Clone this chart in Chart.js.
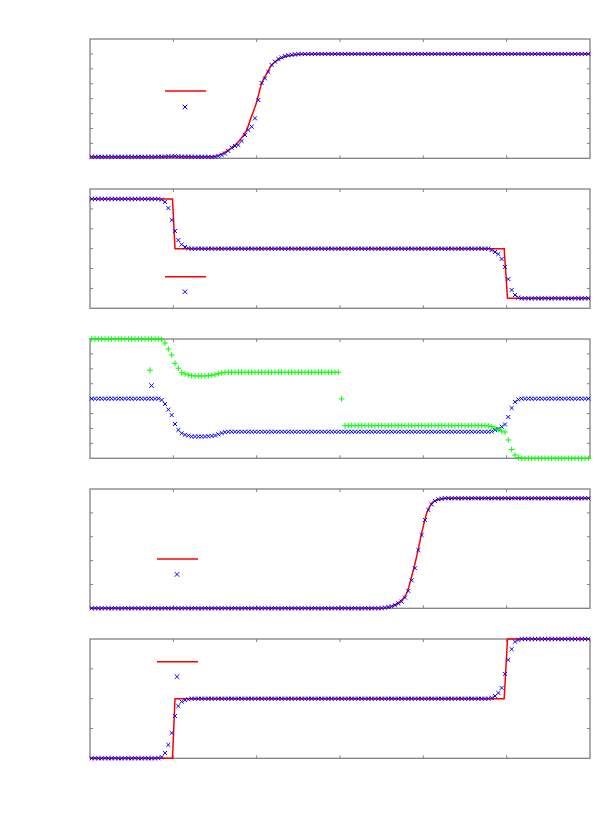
<!DOCTYPE html>
<html>
<head>
<meta charset="utf-8">
<script src="https://cdn.jsdelivr.net/npm/chart.js@4/dist/chart.umd.min.js"></script>
<style>
  body { margin: 0; background: #fff; width: 600px; height: 829px; position: relative; overflow: hidden; font-family: "DejaVu Sans", sans-serif; }
  canvas { position: absolute; left: 0; }
</style>
</head>
<body>
<canvas id="p0" width="600" height="150" style="top:30px"></canvas>
<canvas id="p1" width="600" height="150" style="top:180px"></canvas>
<canvas id="p2" width="600" height="150" style="top:330px"></canvas>
<canvas id="p3" width="600" height="150" style="top:480px"></canvas>
<canvas id="p4" width="600" height="150" style="top:630px"></canvas>
<script>
// cell centres shared by every numerical series
var xGrid = [
    0.02,0.06,0.10,0.14,0.18,0.22,0.26,0.30,0.34,0.38,
    0.42,0.46,0.50,0.54,0.58,0.62,0.66,0.70,0.74,0.78,
    0.82,0.86,0.90,0.94,0.98,1.02,1.06,1.10,1.14,1.18,
    1.22,1.26,1.30,1.34,1.38,1.42,1.46,1.50,1.54,1.58,
    1.62,1.66,1.70,1.74,1.78,1.82,1.86,1.90,1.94,1.98,
    2.02,2.06,2.10,2.14,2.18,2.22,2.26,2.30,2.34,2.38,
    2.42,2.46,2.50,2.54,2.58,2.62,2.66,2.70,2.74,2.78,
    2.82,2.86,2.90,2.94,2.98,3.02,3.06,3.10,3.14,3.18,
    3.22,3.26,3.30,3.34,3.38,3.42,3.46,3.50,3.54,3.58,
    3.62,3.66,3.70,3.74,3.78,3.82,3.86,3.90,3.94,3.98,
    4.02,4.06,4.10,4.14,4.18,4.22,4.26,4.30,4.34,4.38,
    4.42,4.46,4.50,4.54,4.58,4.62,4.66,4.70,4.74,4.78,
    4.82,4.86,4.90,4.94,4.98,5.02,5.06,5.10,5.14,5.18,
    5.22,5.26,5.30,5.34,5.38,5.42,5.46,5.50,5.54,5.58,
    5.62,5.66,5.70,5.74,5.78,5.82,5.86,5.90,5.94,5.98
];
var xTicks = [1, 2, 3, 4, 5];

// panel 1
var p1Num = [
    0.10,0.10,0.10,0.10,0.10,0.10,0.10,0.10,0.10,0.10,
    0.10,0.10,0.10,0.10,0.10,0.10,0.10,0.10,0.10,0.10,
    0.11,0.11,0.12,0.13,0.14,0.14,0.13,0.12,0.11,0.11,
    0.10,0.10,0.10,0.10,0.10,0.10,0.09,0.11,0.15,0.22,
    0.32,0.49,0.72,0.82,0.89,1.16,1.56,1.90,2.12,2.68,
    3.91,5.05,5.36,5.79,6.26,6.48,6.66,6.76,6.85,6.91,
    6.94,6.97,6.99,7.00,7.00,7.00,7.00,7.00,7.00,7.00,
    7.00,7.00,7.00,7.00,7.00,7.00,7.00,7.00,7.00,7.00,
    7.00,7.00,7.00,7.00,7.00,7.00,7.00,7.00,7.00,7.00,
    7.00,7.00,7.00,7.00,7.00,7.00,7.00,7.00,7.00,7.00,
    7.00,7.00,7.00,7.00,7.00,7.00,7.00,7.00,7.00,7.00,
    7.00,7.00,7.00,7.00,7.00,7.00,7.00,7.00,7.00,7.00,
    7.00,7.00,7.00,7.00,7.00,7.00,7.00,7.00,7.00,7.00,
    7.00,7.00,7.00,7.00,7.00,7.00,7.00,7.00,7.00,7.00,
    7.00,7.00,7.00,7.00,7.00,7.00,7.00,7.00,7.00,7.00
];
var p1ExactX = [0, 1.48, 1.60, 1.72, 1.80, 1.88, 1.93, 2.00, 2.06, 2.12, 2.17, 2.22, 2.29, 2.36, 2.52, 2.76, 6.0];
var p1ExactY = [0.10, 0.11, 0.35, 0.78, 1.23, 1.90, 2.69, 3.78, 5.03, 5.68, 6.17, 6.46, 6.71, 6.84, 6.98, 7.00, 7.00];
var p1YTicks = [1, 2, 3, 4, 5, 6, 7];

// panel 2
var p2Num = [
    5.50,5.50,5.50,5.50,5.50,5.50,5.50,5.50,5.50,5.50,
    5.50,5.50,5.50,5.50,5.50,5.50,5.50,5.50,5.50,5.50,
    5.50,5.47,5.35,5.04,4.44,3.89,3.43,3.21,3.08,3.02,
    3.00,3.00,3.00,3.00,3.00,3.00,3.00,3.00,3.00,3.00,
    3.00,3.00,3.00,3.00,3.00,3.00,3.00,3.00,3.00,3.00,
    3.00,3.00,3.00,3.00,3.00,3.00,3.00,3.00,3.00,3.00,
    3.00,3.00,3.00,3.00,3.00,3.00,3.00,3.00,3.00,3.00,
    3.00,3.00,3.00,3.00,3.00,3.00,3.00,3.00,3.00,3.00,
    3.00,3.00,3.00,3.00,3.00,3.00,3.00,3.00,3.00,3.00,
    3.00,3.00,3.00,3.00,3.00,3.00,3.00,3.00,3.00,3.00,
    3.00,3.00,3.00,3.00,3.00,3.00,3.00,3.00,3.00,3.00,
    3.00,3.00,3.00,3.00,3.00,3.00,3.00,3.00,3.00,3.00,
    2.93,2.83,2.73,2.48,2.08,1.47,0.92,0.67,0.54,0.50,
    0.50,0.50,0.50,0.50,0.50,0.50,0.50,0.50,0.50,0.50,
    0.50,0.50,0.50,0.50,0.50,0.50,0.50,0.50,0.50,0.50
];
var p2ExactX = [0, 0.99, 1.02, 4.97, 5.01, 6.0];
var p2ExactY = [5.5, 5.5, 3.0, 3.0, 0.5, 0.5];
var p2YTicks = [1, 2, 3, 4, 5];

// panel 3, two components
var p3Green = [
    8.00,8.00,8.00,8.00,8.00,8.00,8.00,8.00,8.00,8.00,
    8.00,8.00,8.00,8.00,8.00,8.00,8.00,8.00,8.00,8.00,
    8.00,7.97,7.73,7.33,6.93,6.37,6.04,5.74,5.65,5.59,
    5.54,5.52,5.52,5.52,5.52,5.54,5.57,5.61,5.67,5.73,
    5.76,5.77,5.77,5.77,5.77,5.77,5.77,5.77,5.77,5.77,
    5.77,5.77,5.77,5.77,5.77,5.77,5.77,5.77,5.77,5.77,
    5.77,5.77,5.77,5.77,5.77,5.77,5.77,5.77,5.77,5.77,
    5.77,5.77,5.77,5.77,5.77,3.98,2.19,2.19,2.19,2.19,
    2.19,2.19,2.19,2.19,2.19,2.19,2.19,2.19,2.19,2.19,
    2.19,2.19,2.19,2.19,2.19,2.19,2.19,2.19,2.19,2.19,
    2.19,2.19,2.19,2.19,2.19,2.19,2.19,2.19,2.19,2.19,
    2.19,2.19,2.19,2.19,2.19,2.19,2.19,2.19,2.19,2.17,
    2.13,2.03,1.93,1.83,1.76,1.23,0.59,0.22,0.05,0.00,
    0.00,0.00,0.00,0.00,0.00,0.00,0.00,0.00,0.00,0.00,
    0.00,0.00,0.00,0.00,0.00,0.00,0.00,0.00,0.00,0.00
];
var p3Blue = [
    4.00,4.00,4.00,4.00,4.00,4.00,4.00,4.00,4.00,4.00,
    4.00,4.00,4.00,4.00,4.00,4.00,4.00,4.00,4.00,4.00,
    4.00,3.91,3.64,3.27,2.90,2.30,1.90,1.68,1.58,1.53,
    1.46,1.46,1.46,1.46,1.46,1.48,1.50,1.53,1.61,1.70,
    1.75,1.78,1.78,1.78,1.78,1.78,1.78,1.78,1.78,1.78,
    1.78,1.78,1.78,1.78,1.78,1.78,1.78,1.78,1.78,1.78,
    1.78,1.78,1.78,1.78,1.78,1.78,1.78,1.78,1.78,1.78,
    1.78,1.78,1.78,1.78,1.78,1.78,1.78,1.78,1.78,1.78,
    1.78,1.78,1.78,1.78,1.78,1.78,1.78,1.78,1.78,1.78,
    1.78,1.78,1.78,1.78,1.78,1.78,1.78,1.78,1.78,1.78,
    1.78,1.78,1.78,1.78,1.78,1.78,1.78,1.78,1.78,1.78,
    1.78,1.78,1.78,1.78,1.78,1.78,1.78,1.78,1.78,1.78,
    1.80,1.90,1.96,2.12,2.27,2.77,3.37,3.78,3.94,4.00,
    4.00,4.00,4.00,4.00,4.00,4.00,4.00,4.00,4.00,4.00,
    4.00,4.00,4.00,4.00,4.00,4.00,4.00,4.00,4.00,4.00
];
var p3YTicks = [1, 2, 3, 4, 5, 6, 7];

// panel 4
var p4Num = [
    0.00,0.00,0.00,0.00,0.00,0.00,0.00,0.00,0.00,0.00,
    0.00,0.00,0.00,0.00,0.00,0.00,0.00,0.00,0.00,0.00,
    0.00,0.00,0.00,0.00,0.00,0.00,0.00,0.00,0.00,0.00,
    0.00,0.00,0.00,0.00,0.00,0.00,0.00,0.00,0.00,0.00,
    0.00,0.00,0.00,0.00,0.00,0.00,0.00,0.00,0.00,0.00,
    0.00,0.00,0.00,0.00,0.00,0.00,0.00,0.00,0.00,0.00,
    0.00,0.00,0.00,0.00,0.00,0.00,0.00,0.00,0.00,0.00,
    0.00,0.00,0.00,0.00,0.00,0.00,0.00,0.00,0.00,0.00,
    0.00,0.00,0.00,0.00,0.00,0.00,0.00,0.01,0.03,0.05,
    0.08,0.13,0.20,0.28,0.45,0.73,1.17,1.68,2.44,3.07,
    3.70,4.12,4.35,4.50,4.57,4.59,4.61,4.61,4.61,4.61,
    4.61,4.61,4.61,4.61,4.61,4.61,4.61,4.61,4.61,4.61,
    4.61,4.61,4.61,4.61,4.61,4.61,4.61,4.61,4.61,4.61,
    4.61,4.61,4.61,4.61,4.61,4.61,4.61,4.61,4.61,4.61,
    4.61,4.61,4.61,4.61,4.61,4.61,4.61,4.61,4.61,4.61
];
var p4ExactX = [0, 3.52, 3.62, 3.72, 3.80, 3.86, 3.92, 3.98, 4.04, 4.10, 4.16, 4.28, 6.0];
var p4ExactY = [0, 0, 0.08, 0.28, 0.63, 1.33, 2.17, 3.14, 3.98, 4.40, 4.53, 4.61, 4.61];
var p4YTicks = [1, 2, 3, 4];

// panel 5
var p5Num = [
    0.00,0.00,0.00,0.00,0.00,0.00,0.00,0.00,0.00,0.00,
    0.00,0.00,0.00,0.00,0.00,0.00,0.00,0.00,0.00,0.00,
    0.01,0.04,0.18,0.45,0.85,1.42,1.75,1.90,1.95,1.98,
    2.00,2.00,2.00,2.00,2.00,2.00,2.00,2.00,2.00,2.00,
    2.00,2.00,2.00,2.00,2.00,2.00,2.00,2.00,2.00,2.00,
    2.00,2.00,2.00,2.00,2.00,2.00,2.00,2.00,2.00,2.00,
    2.00,2.00,2.00,2.00,2.00,2.00,2.00,2.00,2.00,2.00,
    2.00,2.00,2.00,2.00,2.00,2.00,2.00,2.00,2.00,2.00,
    2.00,2.00,2.00,2.00,2.00,2.00,2.00,2.00,2.00,2.00,
    2.00,2.00,2.00,2.00,2.00,2.00,2.00,2.00,2.00,2.00,
    2.00,2.00,2.00,2.00,2.00,2.00,2.00,2.00,2.00,2.00,
    2.00,2.00,2.00,2.00,2.00,2.00,2.00,2.00,2.00,2.00,
    2.02,2.09,2.19,2.36,2.83,3.30,3.66,3.91,3.97,4.00,
    4.00,4.00,4.00,4.00,4.00,4.00,4.00,4.00,4.00,4.00,
    4.00,4.00,4.00,4.00,4.00,4.00,4.00,4.00,4.00,4.00
];
var p5ExactX = [0, 0.99, 1.02, 4.97, 5.01, 6.0];
var p5ExactY = [0, 0, 2, 2, 4, 4];
var p5YTicks = [1, 2, 3];

var RED = '#ff0000', BLUE = '#0000ff', GREEN = '#00ff00', FRAME = '#808080';

var pairs = function (xs, ys) {
    var out = [];
    for (var i = 0; i < ys.length; i++) {
        out.push({ x: xs[i], y: ys[i] });
    }
    return out;
};

var exactSet = function (xs, ys, smooth) {
    return {
        data: pairs(xs, ys),
        showLine: true,
        borderColor: RED,
        borderWidth: 1.5,
        pointRadius: 0,
        cubicInterpolationMode: smooth ? 'monotone' : 'default',
        clip: false,
        order: 2
    };
};

var pointSet = function (ys, color, style) {
    return {
        data: pairs(xGrid, ys),
        showLine: false,
        borderColor: color,
        backgroundColor: color,
        borderWidth: 1,
        pointStyle: style,
        pointRadius: 2.8,
        clip: false,
        order: 1
    };
};

// border with inward mirrored ticks, drawn through the chart's scales
var makeFrame = function (yTicks) {
    return {
        id: 'frame',
        beforeDatasetsDraw: function (chart) {
            var ctx = chart.ctx, a = chart.chartArea;
            var xs = chart.scales.x, ys = chart.scales.y;
            ctx.save();
            ctx.strokeStyle = FRAME;
            ctx.lineWidth = 1;
            ctx.beginPath();
            xTicks.forEach(function (v) {
                var px = xs.getPixelForValue(v);
                ctx.moveTo(px, a.top); ctx.lineTo(px, a.top + 3);
                ctx.moveTo(px, a.bottom); ctx.lineTo(px, a.bottom - 3);
            });
            yTicks.forEach(function (v) {
                var py = ys.getPixelForValue(v);
                ctx.moveTo(a.left, py); ctx.lineTo(a.left + 3, py);
                ctx.moveTo(a.right, py); ctx.lineTo(a.right - 3, py);
            });
            ctx.stroke();
            ctx.lineWidth = 1.3;
            ctx.strokeRect(a.left, a.top, a.right - a.left, a.bottom - a.top);
            ctx.restore();
        }
    };
};

// gnuplot style key samples (the key has no text), placed as fractions of the plot area
var makeKey = function (entries) {
    return {
        id: 'key',
        afterDatasetsDraw: function (chart) {
            var ctx = chart.ctx, a = chart.chartArea;
            var w = a.right - a.left, h = a.bottom - a.top;
            ctx.save();
            entries.forEach(function (e) {
                ctx.strokeStyle = e.color;
                ctx.beginPath();
                if (e.kind === 'line') {
                    ctx.lineWidth = 1.5;
                    ctx.moveTo(a.left + e.x0 * w, a.top + e.y * h);
                    ctx.lineTo(a.left + e.x1 * w, a.top + e.y * h);
                } else {
                    var cx = a.left + e.x * w, cy = a.top + e.y * h, r = 2.3;
                    ctx.lineWidth = 1;
                    if (e.kind === 'x') {
                        ctx.moveTo(cx - r, cy - r); ctx.lineTo(cx + r, cy + r);
                        ctx.moveTo(cx - r, cy + r); ctx.lineTo(cx + r, cy - r);
                    } else {
                        r = 3;
                        ctx.moveTo(cx - r, cy); ctx.lineTo(cx + r, cy);
                        ctx.moveTo(cx, cy - r); ctx.lineTo(cx, cy + r);
                    }
                }
                ctx.stroke();
            });
            ctx.restore();
        }
    };
};

var makePanel = function (id, yMax, yTicks, datasets, key) {
    return new Chart(document.getElementById(id), {
        type: 'scatter',
        data: { datasets: datasets },
        options: {
            responsive: false,
            animation: false,
            events: [],
            layout: { padding: { left: 90, right: 10, top: 9, bottom: 21.7 } },
            scales: {
                x: { type: 'linear', min: 0, max: 6, display: false },
                y: { type: 'linear', min: 0, max: yMax, display: false }
            },
            plugins: { legend: { display: false }, tooltip: { enabled: false } }
        },
        plugins: [makeFrame(yTicks), makeKey(key)]
    });
};

makePanel('p0', 8, p1YTicks,
    [exactSet(p1ExactX, p1ExactY, true), pointSet(p1Num, BLUE, 'crossRot')],
    [{ kind: 'line', color: RED, x0: 0.15, x1: 0.232, y: 0.436 }, { kind: 'x', color: BLUE, x: 0.19, y: 0.57 }]);

makePanel('p1', 6, p2YTicks,
    [exactSet(p2ExactX, p2ExactY, false), pointSet(p2Num, BLUE, 'crossRot')],
    [{ kind: 'line', color: RED, x0: 0.15, x1: 0.232, y: 0.735 }, { kind: 'x', color: BLUE, x: 0.19, y: 0.861 }]);

makePanel('p2', 8, p3YTicks,
    [pointSet(p3Green, GREEN, 'cross'), pointSet(p3Blue, BLUE, 'crossRot')],
    [{ kind: 'plus', color: GREEN, x: 0.12, y: 0.262 }, { kind: 'x', color: BLUE, x: 0.123, y: 0.391 }]);

makePanel('p3', 5, p4YTicks,
    [exactSet(p4ExactX, p4ExactY, true), pointSet(p4Num, BLUE, 'crossRot')],
    [{ kind: 'line', color: RED, x0: 0.134, x1: 0.216, y: 0.587 }, { kind: 'x', color: BLUE, x: 0.174, y: 0.716 }]);

makePanel('p4', 4, p5YTicks,
    [exactSet(p5ExactX, p5ExactY, false), pointSet(p5Num, BLUE, 'crossRot')],
    [{ kind: 'line', color: RED, x0: 0.134, x1: 0.216, y: 0.19 }, { kind: 'x', color: BLUE, x: 0.174, y: 0.316 }]);
</script>
</body>
</html>
